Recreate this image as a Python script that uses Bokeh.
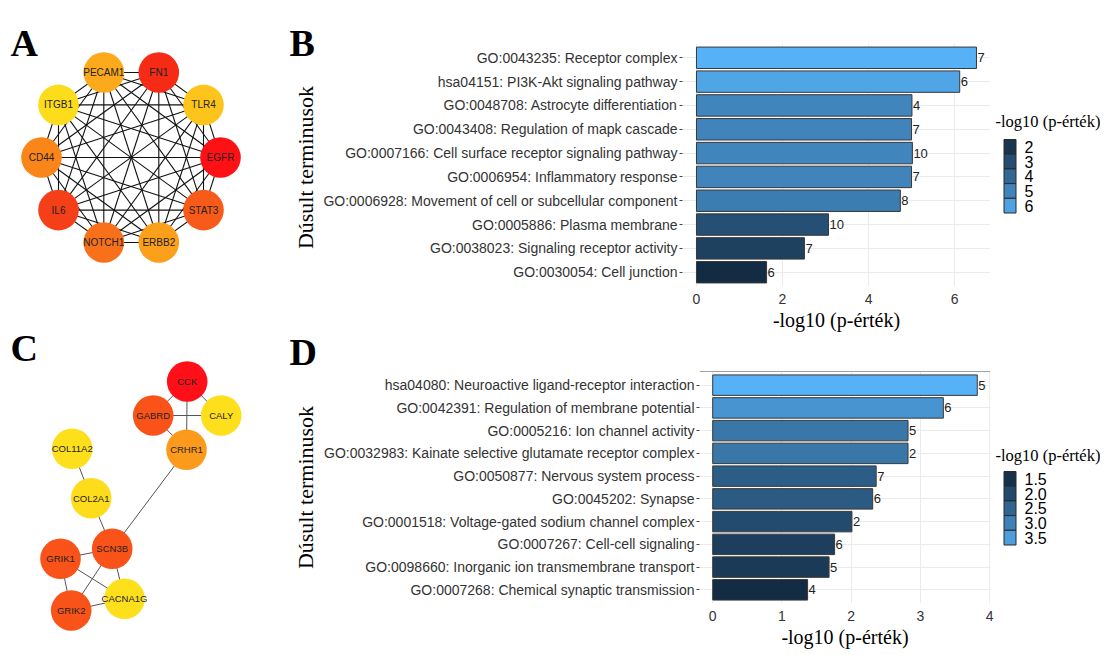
import itertools
import math
from bokeh.plotting import figure
from bokeh.layouts import row, column
from bokeh.models import Range1d, FactorRange, FixedTicker, Span, ColumnDataSource
from bokeh.embed import file_html
from bokeh.resources import INLINE
from bokeh.core.properties import value

SANS = "Liberation Sans"
SERIF = "Liberation Serif"

# ---------------- data ----------------
# Panel A network (node positions, in picture pixels)
a_genes = ["PECAM1", "FN1", "TLR4", "EGFR", "STAT3", "ERBB2", "NOTCH1", "IL6", "CD44", "ITGB1"]
a_x = [103.3, 158.3, 203.0, 220.0, 203.0, 158.3, 103.3, 58.0, 41.0, 58.0]
a_y = [72.0, 72.0, 104.4, 157.0, 209.6, 242.0, 242.0, 209.6, 157.0, 104.4]
a_colors = ["#FCAA1B", "#F52B16", "#FDC51B", "#FF1014", "#F85A1A",
            "#FC9F1B", "#F9701A", "#F53F18", "#FA8518", "#FDDC1B"]
a_edges = list(itertools.combinations(range(len(a_genes)), 2))

# Panel C network
c_genes = ["CCK", "GABRD", "CALY", "CRHR1", "COL11A2", "COL2A1", "SCN3B", "GRIK1", "CACNA1G", "GRIK2"]
c_x = [186.7, 152.7, 220.7, 186.0, 71.7, 90.7, 111.7, 60.0, 124.0, 70.7]
c_y = [381.0, 415.0, 415.0, 449.3, 448.3, 497.7, 548.3, 558.3, 598.3, 610.0]
c_colors = ["#FF1019", "#F9531A", "#FDDF1B", "#FC9A1B", "#FDE01B",
            "#FDDC1B", "#F9531A", "#F9531A", "#FDDF1B", "#F9531A"]
c_edges = [("CCK", "GABRD"), ("CCK", "CALY"), ("CCK", "CRHR1"), ("GABRD", "CALY"),
           ("GABRD", "CRHR1"), ("CRHR1", "SCN3B"), ("COL11A2", "COL2A1"),
           ("COL2A1", "SCN3B"), ("SCN3B", "GRIK1"), ("SCN3B", "GRIK2"),
           ("SCN3B", "CACNA1G"), ("GRIK1", "GRIK2"), ("GRIK1", "CACNA1G"),
           ("GRIK2", "CACNA1G")]

# Panel B enrichment
b_terms = ["GO:0043235: Receptor complex",
           "hsa04151: PI3K-Akt signaling pathway",
           "GO:0048708: Astrocyte differentiation",
           "GO:0043408: Regulation of mapk cascade",
           "GO:0007166: Cell surface receptor signaling pathway",
           "GO:0006954: Inflammatory response",
           "GO:0006928: Movement of cell or subcellular component",
           "GO:0005886: Plasma membrane",
           "GO:0038023: Signaling receptor activity",
           "GO:0030054: Cell junction"]
b_values = [6.51, 6.12, 5.01, 5.00, 5.02, 5.00, 4.74, 3.07, 2.51, 1.63]
b_counts = [7, 6, 4, 7, 10, 7, 8, 10, 7, 6]
b_xticks = [0, 2, 4, 6]
b_breaks = [2, 3, 4, 5, 6]
b_break_labels = ["2", "3", "4", "5", "6"]

# Panel D enrichment
d_terms = ["hsa04080: Neuroactive ligand-receptor interaction",
           "GO:0042391: Regulation of membrane potential",
           "GO:0005216: Ion channel activity",
           "GO:0032983: Kainate selective glutamate receptor complex",
           "GO:0050877: Nervous system process",
           "GO:0045202: Synapse",
           "GO:0001518: Voltage-gated sodium channel complex",
           "GO:0007267: Cell-cell signaling",
           "GO:0098660: Inorganic ion transmembrane transport",
           "GO:0007268: Chemical synaptic transmission"]
d_values = [3.82, 3.33, 2.82, 2.82, 2.36, 2.31, 2.01, 1.76, 1.68, 1.37]
d_counts = [5, 6, 5, 2, 7, 6, 2, 6, 5, 4]
d_xticks = [0, 1, 2, 3, 4]
d_breaks = [1.5, 2.0, 2.5, 3.0, 3.5]
d_break_labels = ["1.5", "2.0", "2.5", "3.0", "3.5"]

LEGEND_TITLE = "-log10 (p-érték)"
Y_TITLE = "Dúsult terminusok"
LETTERS = ["A", "B", "C", "D"]

# ---------------- colour gradient (ggplot default, Lab interpolation) ----------------
LOW, HIGH = "#132B43", "#56B1F7"


def _lin(c):
    c = c / 255.0
    return c / 12.92 if c <= 0.04045 else ((c + 0.055) / 1.055) ** 2.4


def _unlin(c):
    c = max(0.0, min(1.0, c))
    v = 12.92 * c if c <= 0.0031308 else 1.055 * c ** (1 / 2.4) - 0.055
    return max(0, min(255, int(round(v * 255))))


def hex2lab(h):
    r, g, b = [_lin(int(h[i:i + 2], 16)) for i in (1, 3, 5)]
    X = (0.4124564 * r + 0.3575761 * g + 0.1804375 * b) / 0.95047
    Y = (0.2126729 * r + 0.7151522 * g + 0.0721750 * b)
    Z = (0.0193339 * r + 0.1191920 * g + 0.9503041 * b) / 1.08883
    f = lambda t: t ** (1 / 3) if t > 216 / 24389 else (24389 / 27 * t + 16) / 116
    fx, fy, fz = f(X), f(Y), f(Z)
    return (116 * fy - 16, 500 * (fx - fy), 200 * (fy - fz))


def lab2hex(L, a, b):
    fy = (L + 16) / 116
    fx = fy + a / 500
    fz = fy - b / 200
    finv = lambda t: t ** 3 if t ** 3 > 216 / 24389 else (116 * t - 16) / (24389 / 27)
    X = finv(fx) * 0.95047
    Y = finv(fy)
    Z = finv(fz) * 1.08883
    r = 3.2404542 * X - 1.5371385 * Y - 0.4985314 * Z
    g = -0.9692660 * X + 1.8760108 * Y + 0.0415560 * Z
    bb = 0.0556434 * X - 0.2040259 * Y + 1.0572252 * Z
    return "#%02x%02x%02x" % (_unlin(r), _unlin(g), _unlin(bb))


_L0, _L1 = hex2lab(LOW), hex2lab(HIGH)


def grad(v, vmin, vmax):
    t = max(0.0, min(1.0, (v - vmin) / (vmax - vmin)))
    return lab2hex(*[a + (b - a) * t for a, b in zip(_L0, _L1)])


# ---------------- layout geometry (picture pixels) ----------------
TOTAL_W, TOTAL_H = 1100, 639
LEFT_W = 320            # network column (A, C, letters, y titles)
LEG_X0 = 994            # legend column starts here
ROW1 = (0, 328)
ROW2 = (328, 639)
B_FRAME = (682, 990, 43, 286)    # left, right, top, bottom
D_FRAME = (699, 990, 366, 598)


def blank(width, height, xr, yr, **kw):
    p = figure(width=width, height=height, x_range=Range1d(*xr), y_range=Range1d(*yr),
               x_axis_type=None, y_axis_type=None, toolbar_location=None,
               output_backend="svg", **kw)
    p.grid.visible = False
    p.outline_line_color = None
    return p


# ---------------- left column: networks, letters, y-axis titles ----------------
left = blank(LEFT_W, TOTAL_H, (0, LEFT_W), (TOTAL_H, 0), min_border=0)


def draw_network(p, genes, xs, ys, cols, edges, edge_color, edge_width, font_size):
    idx = {g: i for i, g in enumerate(genes)}
    e = [(idx[a], idx[b]) if isinstance(a, str) else (a, b) for a, b in edges]
    p.segment(x0=[xs[i] for i, j in e], y0=[ys[i] for i, j in e],
              x1=[xs[j] for i, j in e], y1=[ys[j] for i, j in e],
              line_color=edge_color, line_width=edge_width)
    src = ColumnDataSource(dict(x=xs, y=ys, g=genes, c=cols))
    p.circle(x="x", y="y", radius=20.3, fill_color="c", line_color=None, source=src)
    p.text(x="x", y="y", text="g", source=src, text_align="center", text_baseline="middle",
           text_font=value(SANS), text_font_size=font_size, text_color="#222222")


draw_network(left, a_genes, a_x, a_y, a_colors, a_edges, "#111111", 1.1, "10px")
draw_network(left, c_genes, c_x, c_y, c_colors, c_edges, "#555555", 1.0, "9.5px")

left.text(x=[10, 289, 10, 289], y=[42, 42, 347, 351], text=LETTERS, text_font=value(SERIF),
          text_font_style="bold", text_font_size="38px", text_color="black",
          text_baseline="alphabetic", text_align="left")
left.text(x=[305, 305], y=[167, 487], text=[Y_TITLE, Y_TITLE], angle=math.pi / 2,
          text_font=value(SERIF), text_font_size="22px", text_color="black",
          text_align="center", text_baseline="middle")


# ---------------- bar charts ----------------
def barplot(terms, vals, counts, ticks, xr, frame, rowspan, top_line=False):
    fl, fr, ft, fb = frame
    vmin, vmax = min(vals), max(vals)
    cols = [grad(v, vmin, vmax) for v in vals]
    src = ColumnDataSource(dict(t=terms, v=vals, c=cols, n=[str(n) for n in counts]))
    p = figure(y_range=FactorRange(factors=list(reversed(terms)), range_padding=0.02),
               x_range=Range1d(*xr), frame_width=fr - fl, frame_height=fb - ft,
               min_border_left=fl - LEFT_W, min_border_right=LEG_X0 - fr,
               min_border_top=ft - rowspan[0], min_border_bottom=rowspan[1] - fb,
               toolbar_location=None, output_backend="svg")
    p.outline_line_color = None
    p.xgrid.grid_line_color = "#EBEBEB"
    p.ygrid.grid_line_color = "#EBEBEB"
    p.xgrid.ticker = FixedTicker(ticks=ticks)
    p.hbar(y="t", left=0, right="v", height=0.9, fill_color="c", line_color="#383838",
           line_width=1, source=src)
    p.text(x="v", y="t", text="n", source=src, x_offset=1, text_align="left",
           text_baseline="middle", text_font=value(SANS), text_font_size="13px",
           text_color="#222222")
    p.xaxis.ticker = FixedTicker(ticks=ticks)
    for ax in (p.xaxis[0], p.yaxis[0]):
        ax.axis_line_color = None
        ax.minor_tick_line_color = None
        ax.major_label_text_font = SANS
        ax.major_label_text_font_size = "14px"
        ax.major_label_text_color = "#333333"
    p.xaxis.major_tick_line_color = None
    p.xaxis.major_label_standoff = 1
    p.xaxis.axis_label = LEGEND_TITLE
    p.xaxis.axis_label_text_font = SERIF
    p.xaxis.axis_label_text_font_style = "normal"
    p.xaxis.axis_label_text_color = "black"
    p.xaxis.axis_label_text_font_size = "20px"
    p.xaxis.axis_label_standoff = 2
    p.yaxis.major_tick_out = 3
    p.yaxis.major_tick_in = 0
    p.yaxis.major_tick_line_color = "#444444"
    p.yaxis.major_label_standoff = 2
    if top_line:
        p.add_layout(Span(location=len(terms) + 0.1, dimension="width",
                          line_color="#444444", line_width=1))
    return p


def legend_fig(rowspan, frame, breaks, labels, vals, title_y, key_top):
    fl, fr, ft, fb = frame
    w = TOTAL_W - LEG_X0
    p = figure(x_range=Range1d(LEG_X0, TOTAL_W), y_range=Range1d(fb, ft),
               frame_width=w, frame_height=fb - ft, min_border_left=0, min_border_right=0,
               min_border_top=ft - rowspan[0], min_border_bottom=rowspan[1] - fb,
               x_axis_type=None, y_axis_type=None, toolbar_location=None,
               output_backend="svg")
    p.grid.visible = False
    p.outline_line_color = None
    vmin, vmax = min(vals), max(vals)
    kh = 14.7
    ys = [key_top + kh * (i + 0.5) for i in range(len(breaks))]
    p.rect(x=[1009.5] * len(breaks), y=ys, width=12, height=kh,
           fill_color=[grad(b, vmin, vmax) for b in breaks], line_color="#2a2a2a", line_width=1)
    p.text(x=[1024] * len(breaks), y=ys, text=labels, text_align="left", text_baseline="middle",
           text_font=value(SANS), text_font_size="16px", text_color="black")
    p.text(x=[995], y=[title_y], text=[LEGEND_TITLE], text_align="left", text_baseline="middle",
           text_font=value(SERIF), text_font_size="16.5px", text_color="black")
    return p


pb = barplot(b_terms, b_values, b_counts, b_xticks, (-0.325, 6.836), B_FRAME, ROW1)
pd = barplot(d_terms, d_values, d_counts, d_xticks, (-0.191, 4.011), D_FRAME, ROW2,
             top_line=True)
lb = legend_fig(ROW1, B_FRAME, b_breaks, b_break_labels, b_values, 121, 139)
ld = legend_fig(ROW2, D_FRAME, d_breaks, d_break_labels, d_values, 450, 466)

layout = row(left, column(row(pb, lb), row(pd, ld)))

open("out.html", "w").write(file_html(layout, INLINE))
